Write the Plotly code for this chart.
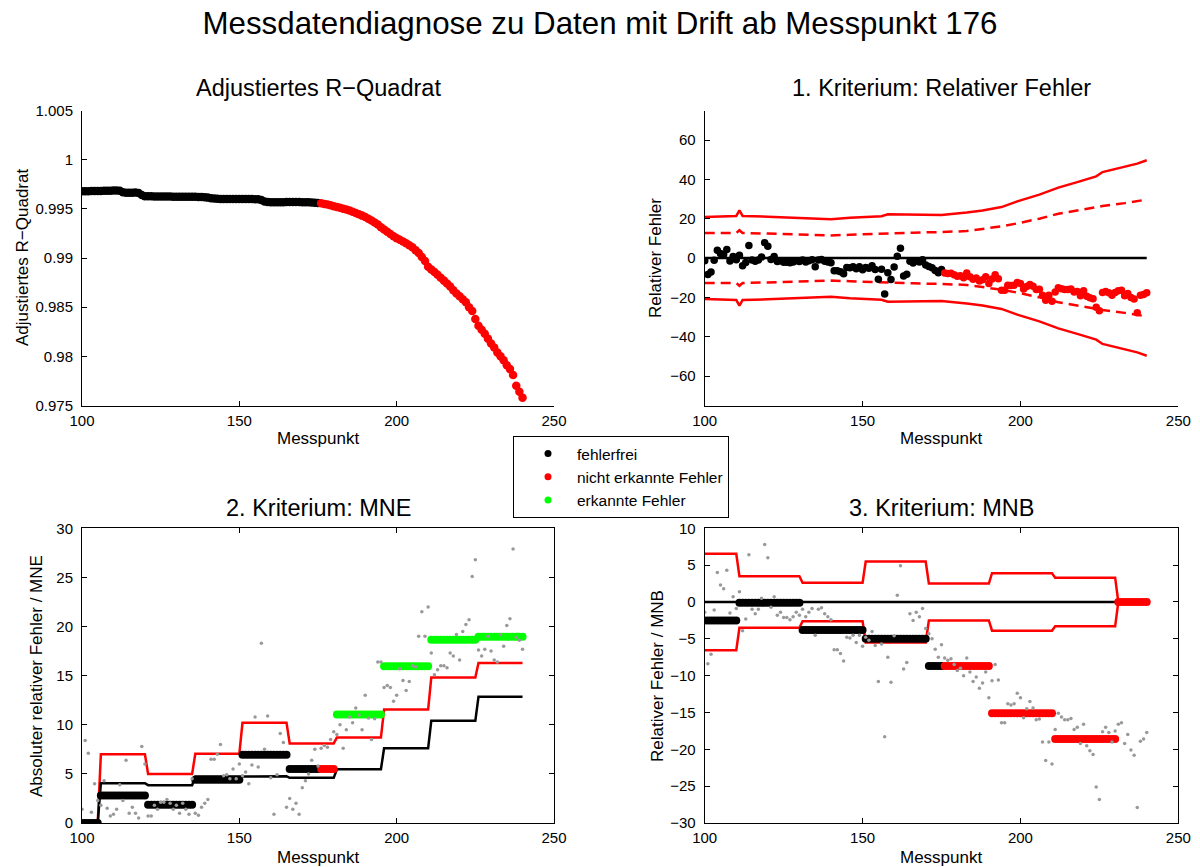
import plotly.graph_objects as go

# ---------------- data ----------------
messpunkt = list(range(100, 241))
drift_start = 176

r2 = [0.99680, 0.99680, 0.99680, 0.99681, 0.99681, 0.99682, 0.99682, 0.99683, 0.99684, 0.99685,
      0.99686, 0.99686, 0.99684, 0.99668, 0.99663, 0.99663, 0.99664, 0.99665, 0.99660, 0.99640,
      0.99628, 0.99627, 0.99627, 0.99626, 0.99626, 0.99626, 0.99625, 0.99625, 0.99625, 0.99624,
      0.99624, 0.99624, 0.99623, 0.99623, 0.99623, 0.99622, 0.99622, 0.99621, 0.99620, 0.99618,
      0.99614, 0.99608, 0.99604, 0.99602, 0.99601, 0.99601, 0.99601, 0.99600, 0.99600, 0.99600,
      0.99600, 0.99600, 0.99599, 0.99599, 0.99599, 0.99598, 0.99597, 0.99590, 0.99575, 0.99569,
      0.99568, 0.99568, 0.99568, 0.99568, 0.99568, 0.99569, 0.99569, 0.99569, 0.99569, 0.99569,
      0.99568, 0.99568, 0.99567, 0.99565, 0.99563, 0.99560, 0.99556, 0.99550, 0.99544, 0.99536,
      0.99527, 0.99519, 0.99510, 0.99502, 0.99493, 0.99484, 0.99471, 0.99458, 0.99445, 0.99431,
      0.99416, 0.99400, 0.99382, 0.99362, 0.99340, 0.99312, 0.99290, 0.99268, 0.99245, 0.99222,
      0.99200, 0.99185, 0.99169, 0.99150, 0.99130, 0.99110, 0.99080, 0.99050, 0.99010, 0.98970,
      0.98910, 0.98882, 0.98858, 0.98830, 0.98800, 0.98770, 0.98740, 0.98710, 0.98672, 0.98640,
      0.98610, 0.98580, 0.98550, 0.98500, 0.98460, 0.98380, 0.98310, 0.98270, 0.98230, 0.98180,
      0.98130, 0.98090, 0.98040, 0.98000, 0.97960, 0.97910, 0.97870, 0.97810, 0.97700, 0.97640,
      0.97580]

rel_err = [-1.4, -8.4, -7.1, -1.1, 4.0, 2.3, 1.8, 4.3, -1.5, 0.7,
           -0.9, 1.4, -3.9, -2.3, 6.4, -1.0, -1.6, -1.0, 0.5, 7.8,
           6.0, -0.7, 0.7, -1.8, -1.4, -2.1, -2.1, -2.4, -2.0, -1.4,
           -1.8, -1.0, -2.0, -1.4, -0.9, -4.5, -1.0, -0.8, -1.6, -2.0,
           -2.4, -6.5, -6.5, -7.0, -8.0, -4.8, -4.9, -4.5, -5.5, -4.5,
           -6.0, -4.8, -5.2, -4.0, -5.9, -10.8, -5.7, -18.3, -7.5, -10.9,
           -4.6, 0.9, 4.9, -9.1, -8.2, -1.6, -2.5, -1.4, -2.0, -0.9,
           -3.6, -4.3, -5.0, -6.4, -7.5, -5.8, -7.6, -7.9, -7.7, -8.5,
           -9.3, -9.0, -10.0, -7.6, -9.5, -10.8, -10.2, -11.7, -11.0, -9.5,
           -13.0, -10.7, -8.5, -10.6, -16.4, -16.4, -13.8, -14.0, -13.8, -12.4,
           -13.0, -15.7, -14.5, -13.5, -14.4, -16.0, -15.9, -19.0, -21.5, -19.0,
           -22.0, -17.3, -15.1, -15.6, -16.0, -16.0, -15.8, -17.3, -17.0, -19.2,
           -16.6, -19.5, -20.2, -20.7, -25.1, -26.8, -17.6, -17.0, -17.7, -19.0,
           -17.5, -16.6, -16.4, -19.2, -18.0, -20.1, -20.8, -27.9, -18.9, -18.6,
           -17.7]

# Kriterium 1: Grenzen (Stützstellen)
lim_x = [100, 110, 111, 112, 120, 130, 140, 146, 156, 158, 166, 175, 183, 188,
         194, 199, 206, 212, 218, 224, 226, 233, 237, 240]
lim_solid = [20.8, 21.4, 24.2, 21.4, 21.0, 20.3, 19.7, 20.5, 21.2, 22.2, 22.0, 21.9, 23.1, 24.2,
             25.9, 28.8, 32.2, 35.8, 38.6, 41.5, 43.7, 46.3, 48.0, 49.7]
lim_dashed = [12.7, 12.7, 14.1, 12.7, 12.4, 11.9, 11.5, 11.8, 12.4, 12.6, 12.9, 13.2, 13.7, 14.8,
              16.1, 17.6, 20.0, 22.5, 24.2, 25.9, 26.4, 27.9, 28.9, 29.7]

# Kriterium 2: MNE
mne_start = [100, 106, 121, 136, 151, 166, 181, 196, 211, 226]
mne_end = [105, 120, 135, 150, 165, 180, 195, 210, 225, 240]
mne_value = [0.0, 2.8, 1.85, 4.4, 6.95, 5.5, 11.05, 15.95, 18.65, 18.95]
mne_limit = [0.0, 7.0, 5.0, 7.05, 10.2, 8.1, 8.7, 11.55, 14.8, 16.3]
mne_mean = [0.0, 4.05, 3.85, 4.73, 4.75, 4.6, 5.47, 7.6, 10.4, 12.84]
mne_detected = [False, False, False, False, False, False, True, True, True, True]

# Kriterium 3: MNB
mnb_start = [100, 111, 131, 151, 171, 191, 211, 231]
mnb_end = [110, 130, 150, 170, 190, 210, 230, 240]
mnb_value = [-2.5, -0.1, -3.8, -5.0, -8.7, -15.1, -18.6, 0.0]
mnb_limit = [6.55, 3.5, 2.6, 5.5, 2.5, 3.9, 3.3, 0.0]

# ---------------- helpers ----------------
W, H = 1200, 867
FONT = "Liberation Sans, Arial, Helvetica, sans-serif"
BLACK, RED, GREEN, GREY = "#000000", "#ff0000", "#00ff00", "#999999"


def px(x):
    return x / W


def py(y):
    return 1 - y / H


def expand(starts, ends, values):
    xs, ys = [], []
    for s, e, v in zip(starts, ends, values):
        for m in range(s, e + 1):
            xs.append(m)
            ys.append(v)
    return xs, ys


def split(xs, ys, cond):
    a = [(x, y) for x, y in zip(xs, ys) if cond(x)]
    return [p[0] for p in a], [p[1] for p in a]


fig = go.Figure()

# ---------- Panel 1: adjustiertes R-Quadrat ----------
bx, by = split(messpunkt, r2, lambda m: m < drift_start)
rx, ry = split(messpunkt, r2, lambda m: m >= drift_start)
fig.add_trace(go.Scatter(x=bx, y=by, mode="markers", marker=dict(color=BLACK, size=8.5),
                         xaxis="x", yaxis="y", showlegend=False))
fig.add_trace(go.Scatter(x=rx, y=ry, mode="markers", marker=dict(color=RED, size=8.5),
                         xaxis="x", yaxis="y", showlegend=False))

# ---------- Panel 2: relativer Fehler ----------
for vals, dash in ((lim_solid, "solid"), (lim_dashed, "10px,6px")):
    fig.add_trace(go.Scatter(x=lim_x, y=vals, mode="lines", line=dict(color=RED, width=2.5, dash=dash),
                             xaxis="x2", yaxis="y2", showlegend=False))
    fig.add_trace(go.Scatter(x=lim_x, y=[-v for v in vals], mode="lines",
                             line=dict(color=RED, width=2.5, dash=dash),
                             xaxis="x2", yaxis="y2", showlegend=False))
fig.add_trace(go.Scatter(x=[messpunkt[0], messpunkt[-1]], y=[0, 0], mode="lines",
                         line=dict(color=BLACK, width=2.5), xaxis="x2", yaxis="y2", showlegend=False))
bx, by = split(messpunkt, rel_err, lambda m: m < drift_start)
rx, ry = split(messpunkt, rel_err, lambda m: m >= drift_start)
fig.add_trace(go.Scatter(x=bx, y=by, mode="markers", marker=dict(color=BLACK, size=7.5),
                         xaxis="x2", yaxis="y2", showlegend=False))
fig.add_trace(go.Scatter(x=rx, y=ry, mode="markers", marker=dict(color=RED, size=7.5),
                         xaxis="x2", yaxis="y2", showlegend=False))

# ---------- Panel 3: MNE ----------
lx, ly = expand(mne_start, mne_end, mne_limit)
fig.add_trace(go.Scatter(x=lx, y=ly, mode="lines", line=dict(color=RED, width=2.5),
                         xaxis="x3", yaxis="y3", showlegend=False))
mx, my = expand(mne_start, mne_end, mne_mean)
fig.add_trace(go.Scatter(x=mx, y=my, mode="lines", line=dict(color=BLACK, width=2.5),
                         xaxis="x3", yaxis="y3", showlegend=False))
vx, vy = expand(mne_start, mne_end, mne_value)
_, det = expand(mne_start, mne_end, mne_detected)
groups = {BLACK: ([], []), RED: ([], []), GREEN: ([], [])}
for x, y, d in zip(vx, vy, det):
    c = GREEN if d else (BLACK if x < drift_start else RED)
    groups[c][0].append(x)
    groups[c][1].append(y)
for c in (BLACK, RED, GREEN):
    fig.add_trace(go.Scatter(x=groups[c][0], y=groups[c][1], mode="markers",
                             marker=dict(color=c, size=8), xaxis="x3", yaxis="y3", showlegend=False))
fig.add_trace(go.Scatter(x=messpunkt, y=[abs(v) for v in rel_err], mode="markers",
                         marker=dict(color=GREY, size=3.5), xaxis="x3", yaxis="y3", showlegend=False))

# ---------- Panel 4: MNB ----------
ux, uy = expand(mnb_start, mnb_end, mnb_limit)
fig.add_trace(go.Scatter(x=ux, y=uy, mode="lines", line=dict(color=RED, width=2.5),
                         xaxis="x4", yaxis="y4", showlegend=False))
fig.add_trace(go.Scatter(x=ux, y=[-v for v in uy], mode="lines", line=dict(color=RED, width=2.5),
                         xaxis="x4", yaxis="y4", showlegend=False))
fig.add_trace(go.Scatter(x=[messpunkt[0], messpunkt[-1]], y=[0, 0], mode="lines",
                         line=dict(color=BLACK, width=2.5), xaxis="x4", yaxis="y4", showlegend=False))
vx, vy = expand(mnb_start, mnb_end, mnb_value)
bx, by = split(vx, vy, lambda m: m < drift_start)
rx, ry = split(vx, vy, lambda m: m >= drift_start)
fig.add_trace(go.Scatter(x=bx, y=by, mode="markers", marker=dict(color=BLACK, size=8),
                         xaxis="x4", yaxis="y4", showlegend=False))
fig.add_trace(go.Scatter(x=rx, y=ry, mode="markers", marker=dict(color=RED, size=8),
                         xaxis="x4", yaxis="y4", showlegend=False))
fig.add_trace(go.Scatter(x=messpunkt, y=rel_err, mode="markers",
                         marker=dict(color=GREY, size=3.5), xaxis="x4", yaxis="y4", showlegend=False))

# ---------- legend entries ----------
for name, c, g in (("fehlerfrei", BLACK, "a"), ("nicht erkannte Fehler", RED, "b"),
                   ("erkannte Fehler", GREEN, "c")):
    fig.add_trace(go.Scatter(x=[None], y=[None], mode="markers", name=name, legendgroup=g,
                             marker=dict(color=c, size=7), xaxis="x3", yaxis="y3"))

# ---------- axes ----------
TOP = (py(405.5), py(110.5))
BOT = (py(823), py(528.3))
LEFT = (px(82), px(554))
RIGHT = (px(704.7), px(1178.3))

xticks = [100, 150, 200, 250]


def xax(domain, anchor, mirror):
    return dict(domain=domain, anchor=anchor, range=[100, 250], tickvals=xticks,
                ticktext=[str(t) for t in xticks], ticks="inside", ticklen=5, tickcolor=BLACK,
                showline=True, linecolor=BLACK, linewidth=1, mirror=mirror, showgrid=False,
                zeroline=False, automargin=False, ticklabelstandoff=1,
                tickfont=dict(family=FONT, size=15, color=BLACK))


def yax(domain, anchor, rng, vals, texts, mirror):
    return dict(domain=domain, anchor=anchor, range=rng, tickvals=vals, ticktext=texts,
                ticks="inside", ticklen=5, tickcolor=BLACK, showline=True, linecolor=BLACK,
                linewidth=1, mirror=mirror, showgrid=False, zeroline=False, ticklabelstandoff=5,
                automargin=False, tickfont=dict(family=FONT, size=15, color=BLACK))


def lab(v):
    s = ("%g" % v)
    return s.replace("-", "\u2212")


r2_ticks = [0.975, 0.98, 0.985, 0.99, 0.995, 1.0, 1.005]
re_ticks = [-60, -40, -20, 0, 20, 40, 60]
mne_ticks = [0, 5, 10, 15, 20, 25, 30]
mnb_ticks = [-30, -25, -20, -15, -10, -5, 0, 5, 10]

fig.update_layout(
    xaxis=xax(LEFT, "y", False),
    yaxis=yax(TOP, "x", [0.975, 1.005], r2_ticks, [lab(t) for t in r2_ticks], False),
    xaxis2=xax(RIGHT, "y2", False),
    yaxis2=yax(TOP, "x2", [-75, 75], re_ticks, [lab(t) for t in re_ticks], False),
    xaxis3=xax(LEFT, "y3", "ticks"),
    yaxis3=yax(BOT, "x3", [0, 30], mne_ticks, [lab(t) for t in mne_ticks], "ticks"),
    xaxis4=xax(RIGHT, "y4", "ticks"),
    yaxis4=yax(BOT, "x4", [-30, 10], mnb_ticks, [lab(t) for t in mnb_ticks], "ticks"),
)

# ---------- texts ----------
ann = []


def text(x, y, s, size, angle=0):
    ann.append(dict(x=px(x), y=py(y), xref="paper", yref="paper", text=s, showarrow=False,
                    xanchor="center", yanchor="middle", textangle=angle,
                    font=dict(family=FONT, size=size, color=BLACK)))


text(318, 88, "Adjustiertes R\u2212Quadrat", 23.5)
text(941, 88, "1. Kriterium: Relativer Fehler", 23.5)
text(318, 508, "2. Kriterium: MNE", 23.5)
text(941, 508, "3. Kriterium: MNB", 23.5)
text(318, 438, "Messpunkt", 17)
text(941, 438, "Messpunkt", 17)
text(318, 857, "Messpunkt", 17)
text(941, 857, "Messpunkt", 17)
text(22, 258, "Adjustiertes R\u2212Quadrat", 17, -90)
text(655, 258, "Relativer Fehler", 17, -90)
text(36, 676, "Absoluter relativer Fehler / MNE", 17, -90)
text(657, 676, "Relativer Fehler / MNB", 17, -90)

fig.update_layout(
    width=W, height=H,
    margin=dict(l=0, r=0, t=0, b=0, autoexpand=False),
    paper_bgcolor="white", plot_bgcolor="white",
    font=dict(family=FONT, color=BLACK),
    title=dict(text="Messdatendiagnose zu Daten mit Drift ab Messpunkt 176", x=0.5, xanchor="center",
               y=py(23), yanchor="middle", yref="container",
               font=dict(family=FONT, size=31.3, color=BLACK)),
    annotations=ann,
    showlegend=True,
    legend=dict(x=px(513), y=py(436), xanchor="left", yanchor="top", bgcolor="white",
                bordercolor=BLACK, borderwidth=1, font=dict(family=FONT, size=15.5, color=BLACK),
                tracegroupgap=0, indentation=5, itemwidth=48, traceorder="grouped"),
)

fig.write_html("out.html")
